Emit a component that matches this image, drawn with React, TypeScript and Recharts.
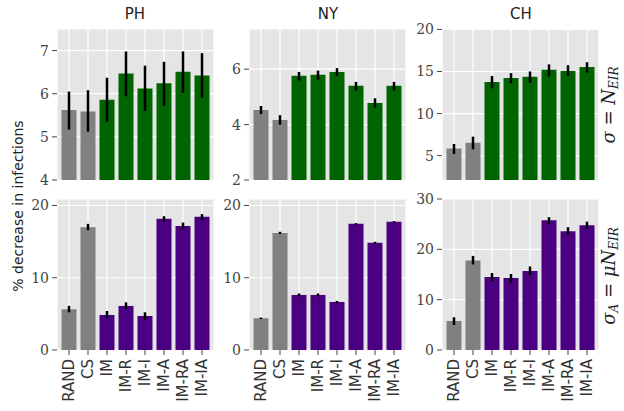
import React from "react";
import { BarChart, Bar, XAxis, YAxis, CartesianGrid, ErrorBar, Cell } from "recharts";

const categories = ["RAND", "CS", "IM", "IM-R", "IM-I", "IM-A", "IM-RA", "IM-IA"];

// top row: sigma = N_EIR
const phTop = [5.62, 5.59, 5.86, 6.47, 6.12, 6.24, 6.51, 6.42];
const phTopLow = [5.17, 5.12, 5.35, 5.94, 5.6, 5.72, 6.02, 5.91];
const phTopHigh = [6.05, 6.08, 6.37, 6.98, 6.65, 6.74, 6.98, 6.94];

const nyTop = [4.53, 4.17, 5.76, 5.8, 5.9, 5.4, 4.78, 5.4];
const nyTopLow = [4.38, 4.0, 5.59, 5.62, 5.76, 5.23, 4.61, 5.23];
const nyTopHigh = [4.67, 4.34, 5.9, 5.95, 6.04, 5.54, 4.95, 5.54];

const chTop = [5.83, 6.54, 13.76, 14.24, 14.36, 15.2, 15.07, 15.54];
const chTopLow = [5.2, 5.75, 13.0, 13.6, 13.65, 14.4, 14.47, 14.87];
const chTopHigh = [6.38, 7.25, 14.47, 14.8, 15.0, 15.85, 15.75, 16.1];

// bottom row: sigma_A = mu N_EIR
const phBot = [5.64, 17.0, 4.85, 6.1, 4.71, 18.15, 17.18, 18.43];
const phBotLow = [5.22, 16.58, 4.39, 5.64, 4.16, 17.7, 16.72, 17.97];
const phBotHigh = [6.1, 17.46, 5.4, 6.6, 5.22, 18.52, 17.64, 18.8];

const nyBot = [4.39, 16.21, 7.62, 7.62, 6.65, 17.46, 14.83, 17.74];
const nyBotLow = [4.29, 16.06, 7.42, 7.42, 6.5, 17.36, 14.68, 17.64];
const nyBotHigh = [4.49, 16.36, 7.82, 7.82, 6.8, 17.56, 14.98, 17.84];

const chBot = [5.76, 17.8, 14.5, 14.3, 15.7, 25.8, 23.6, 24.8];
const chBotLow = [4.97, 17.0, 13.6, 13.3, 14.9, 25.0, 22.9, 24.0];
const chBotHigh = [6.5, 18.7, 15.3, 15.1, 16.6, 26.4, 24.4, 25.5];

const baseColors = ["#808080", "#808080"];
const greenColor = "#006400";
const purpleColor = "#4b0082";

const build = (vals: number[], low: number[], high: number[]) =>
  categories.map((c, i) => ({
    name: c,
    value: vals[i],
    err: [vals[i] - low[i], high[i] - vals[i]],
  }));

const XTick = (props: any) => {
  const { x, y, payload } = props;
  return (
    <g transform={`translate(${x},${y})`}>
      <text
        transform="rotate(-90)"
        x={-3}
        y={0}
        dy="0.36em"
        textAnchor="end"
        fontFamily="DejaVu Sans"
        fontSize={15}
        fill="#333"
      >
        {payload.value}
      </text>
    </g>
  );
};

type PanelProps = {
  left: number;
  top: number;
  data: any[];
  domain: [number, number];
  ticks: number[];
  color: string;
  bottom: boolean;
};

function Panel({ left, top, data, domain, ticks, color, bottom }: PanelProps) {
  const plotH = 151;
  const height = bottom ? 10 + plotH + 60 : 10 + plotH + 10;
  return (
    <div style={{ position: "absolute", left, top }}>
      <BarChart
        width={207}
        height={height}
        data={data}
        margin={{ top: 10, right: 5, left: 0, bottom: bottom ? 0 : 10 }}
      >
        <CartesianGrid fill="#e5e5e5" stroke="#ffffff" strokeWidth={1.2} />
        <XAxis
          dataKey="name"
          hide={!bottom}
          height={60}
          interval={0}
          padding={{ left: 2.5, right: 2.5 }}
          axisLine={false}
          tickLine={{ stroke: "#444" }}
          tickSize={5}
          tickMargin={1}
          tick={<XTick />}
        />
        <YAxis
          width={45}
          domain={domain}
          ticks={ticks}
          allowDataOverflow
          axisLine={false}
          tickLine={{ stroke: "#444" }}
          tickSize={5}
          tickMargin={3}
          tick={{ fontFamily: "DejaVu Serif", fontSize: 14, fill: "#444" }}
        />
        <Bar dataKey="value" barSize={15} isAnimationActive={false}>
          {data.map((d, i) => (
            <Cell key={d.name} fill={i < 2 ? baseColors[i] : color} />
          ))}
          <ErrorBar dataKey="err" width={0} strokeWidth={2.5} stroke="#000" direction="y" />
        </Bar>
      </BarChart>
    </div>
  );
}

export default function App() {
  return (
    <div style={{ position: "absolute", left: 0, top: 0, width: 624, height: 411, background: "#fff" }}>
      <Panel left={12} top={19} data={build(phTop, phTopLow, phTopHigh)} domain={[4, 7.5]} ticks={[4, 5, 6, 7]} color={greenColor} bottom={false} />
      <Panel left={204} top={19} data={build(nyTop, nyTopLow, nyTopHigh)} domain={[2, 7.45]} ticks={[2, 4, 6]} color={greenColor} bottom={false} />
      <Panel left={397} top={19} data={build(chTop, chTopLow, chTopHigh)} domain={[2.1, 20.05]} ticks={[5, 10, 15, 20]} color={greenColor} bottom={false} />
      <Panel left={12} top={189} data={build(phBot, phBotLow, phBotHigh)} domain={[0, 20.9]} ticks={[0, 10, 20]} color={purpleColor} bottom />
      <Panel left={204} top={189} data={build(nyBot, nyBotLow, nyBotHigh)} domain={[0, 20.9]} ticks={[0, 10, 20]} color={purpleColor} bottom />
      <Panel left={397} top={189} data={build(chBot, chBotLow, chBotHigh)} domain={[0, 30]} ticks={[0, 10, 20, 30]} color={purpleColor} bottom />
      <svg width={624} height={411} style={{ position: "absolute", left: 0, top: 0, pointerEvents: "none" }}>
        <g fontFamily="DejaVu Sans" fontSize={15} fill="#222" textAnchor="middle">
          <text x={135} y={19}>PH</text>
          <text x={328} y={19}>NY</text>
          <text x={521} y={19}>CH</text>
        </g>
        <text
          transform="translate(23,206) rotate(-90)"
          textAnchor="middle"
          fontFamily="DejaVu Sans"
          fontSize={14}
          fill="#222"
        >
          % decrease in infections
        </text>
        <text
          transform="translate(615,105) rotate(-90)"
          textAnchor="middle"
          fontFamily="DejaVu Serif"
          fontStyle="italic"
          fontSize={18}
          fill="#222"
        >
          σ <tspan fontStyle="normal">=</tspan> N<tspan fontSize={12} dy={3}>EIR</tspan>
        </text>
        <text
          transform="translate(615,276) rotate(-90)"
          textAnchor="middle"
          fontFamily="DejaVu Serif"
          fontStyle="italic"
          fontSize={18}
          fill="#222"
        >
          σ<tspan fontSize={12} dy={3}>A</tspan>
          <tspan dy={-3}> </tspan>
          <tspan fontStyle="normal">=</tspan> μN<tspan fontSize={12} dy={3}>EIR</tspan>
        </text>
      </svg>
    </div>
  );
}
